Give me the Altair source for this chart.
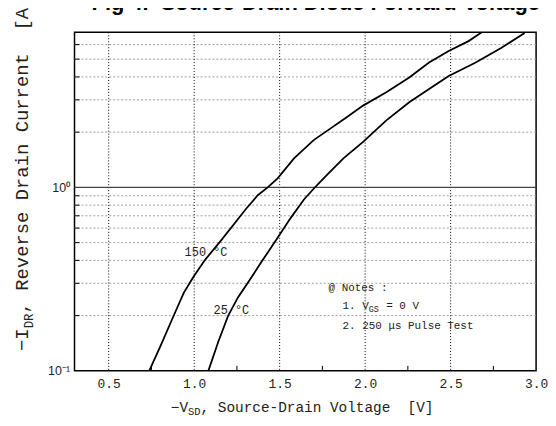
import altair as alt
import pandas as pd

# ---- data ----
v150 = [0.737, 0.804, 0.871, 0.939, 0.997, 1.064, 1.16, 1.237, 1.305, 1.372, 1.43, 1.488,
        1.584, 1.699, 1.796, 1.892, 1.988, 2.124, 2.258, 2.374, 2.489, 2.605, 2.682]
i150 = [0.1, 0.137, 0.191, 0.266, 0.327, 0.403, 0.517, 0.637, 0.767, 0.906, 1.0, 1.12,
        1.44, 1.81, 2.09, 2.41, 2.79, 3.3, 3.97, 4.79, 5.54, 6.27, 7.0]
v25 = [1.083, 1.141, 1.199, 1.257, 1.315, 1.391, 1.488, 1.565, 1.642, 1.719, 1.777, 1.873,
       1.988, 2.124, 2.258, 2.374, 2.489, 2.644, 2.798, 2.933]
i25 = [0.1, 0.144, 0.2, 0.252, 0.303, 0.389, 0.531, 0.682, 0.859, 1.03, 1.17, 1.44,
       1.77, 2.32, 2.91, 3.44, 4.05, 4.78, 5.77, 6.95]

x_grid = [0.5, 1.0, 1.5, 2.0, 2.5]
x_minor = [0.75, 1.25, 1.75, 2.25, 2.75]
x_labels = [0.5, 1.0, 1.5, 2.0, 2.5, 3.0]
y_minor = [0.2, 0.3, 0.4, 0.5, 0.6, 0.7, 0.8, 0.9, 2, 3, 4, 5, 6]
y_major = [0.1, 1.0]
y_unity = [1.0]

NB = "\u00a0"
title_text = "Fig 4.  Source-Drain Diode Forward Voltage".replace(" ", NB)
label_150 = "150 °C".replace(" ", NB)
label_25 = "25 °C".replace(" ", NB)
notes_head = "@ Notes :".replace(" ", NB)
note1_a, note1_sub, note1_b = "1. V".replace(" ", NB), "GS", "= 0 V".replace(" ", NB)
note2 = "2. 250 μs Pulse Test".replace(" ", NB)
xt_a, xt_sub, xt_b = "−V", "SD", " , Source-Drain Voltage  [V]".replace(" ", NB)
yt_a, yt_sub, yt_b = "−I", "DR", " , Reverse Drain Current  [A]".replace(" ", NB)

# ---- chart ----
W, H = 465, 341
MONO = "Liberation Mono"
SANS = "Liberation Sans"
TXT = "#222222"

xs = alt.Scale(domain=[0.3, 3.0], nice=False, zero=False)
ys = alt.Scale(type="log", domain=[0.1, 7], nice=False)
xaxis = alt.Axis(values=x_labels, format=".1f", grid=False, ticks=False, domain=False,
                 labelFlush=False, labelFont=MONO, labelFontSize=13, labelPadding=7,
                 labelColor=TXT, title=None)
yaxis = alt.Axis(values=y_major, labelExpr="datum.value >= 1 ? '10⁰' : '10⁻¹'", grid=False,
                 ticks=False, domain=False, labelFlush=False, labelFont=SANS, labelFontSize=12.5,
                 labelPadding=5, labelColor=TXT, title=None)


def X():
    return alt.X("V:Q", scale=xs, axis=xaxis)


def Y():
    return alt.Y("I:Q", scale=ys, axis=yaxis)


curves = pd.DataFrame({
    "V": v150 + v25,
    "I": i150 + i25,
    "T": ["150"] * len(v150) + ["25"] * len(v25),
})

vgrid = alt.Chart(pd.DataFrame({"V": x_grid})).mark_rule(
    color="black", strokeDash=[1, 2], strokeWidth=1
).encode(x=X())

hgrid = alt.Chart(pd.DataFrame({"I": y_minor})).mark_rule(
    color="#9a9a9a", strokeDash=[2, 2], strokeWidth=1
).encode(y=Y())

hone = alt.Chart(pd.DataFrame({"I": y_unity})).mark_rule(
    color="#444444", strokeWidth=1.3
).encode(y=Y())

xticks = alt.Chart(pd.DataFrame({"V": x_minor})).mark_rule(color="black", strokeWidth=1).encode(
    x=X(), y=alt.value(H), y2=alt.value(H - 5))

yticks = alt.Chart(pd.DataFrame({"I": y_minor})).mark_rule(color="black", strokeWidth=1).encode(
    y=Y(), x=alt.value(0), x2=alt.value(5))

lines = alt.Chart(curves).mark_line(color="black", strokeWidth=1.8, clip=True).encode(
    x=X(), y=Y(), detail="T:N",
)


def annot(v, i, text, size=11, dx=0, dy=0):
    return alt.Chart(pd.DataFrame({"V": [v], "I": [i], "t": [text]})).mark_text(
        font=MONO, fontSize=size, color=TXT, align="left", baseline="alphabetic", dx=dx, dy=dy
    ).encode(x=X(), y=Y(), text="t:N")


annots = [
    annot(0.944, 0.42, label_150, 12),
    annot(1.113, 0.205, label_25, 12),
    annot(1.786, 0.272, notes_head, 11),
    annot(1.868, 0.218, note1_a, 11),
    annot(1.868, 0.218, note1_sub, 8.5, dx=26.4, dy=3),
    annot(1.868, 0.218, note1_b, 11, dx=44),
    annot(1.868, 0.17, note2, 11),
]


def ptext(x, y, text, size, font=MONO, angle=0, weight="normal", align="left"):
    return alt.Chart(pd.DataFrame({"t": [text]})).mark_text(
        font=font, fontSize=size, color=TXT if font == MONO else "black", align=align,
        baseline="alphabetic", angle=angle, fontWeight=weight
    ).encode(x=alt.value(x), y=alt.value(y), text="t:N")


FS = 14.5
CW = FS * 0.6
FY = 19
CY = FY * 0.6
titles = [
    ptext(243, -22, title_text, 22, font=SANS, weight="bold", align="center"),
    ptext(97, 382, xt_a, FS),
    ptext(97 + 2 * CW, 386, xt_sub, 10.5),
    ptext(97 + 2 * CW + 12.6, 382, xt_b, FS),
    ptext(-47, 321, yt_a, FY, angle=270),
    ptext(-42, 321 - 2 * CY, yt_sub, 12.5, angle=270),
    ptext(-47, 321 - 2 * CY - 15, yt_b, FY, angle=270),
]

chart = alt.layer(hgrid, vgrid, hone, xticks, yticks, lines, *annots, *titles).properties(
    width=W, height=H,
    autosize=alt.AutoSizeParams(type="none"),
    padding={"left": 67, "top": 23, "right": 12, "bottom": 45},
).configure_view(stroke="black", strokeWidth=1.5)

chart.save("out.html", embed_options={"renderer": "svg", "actions": False})
